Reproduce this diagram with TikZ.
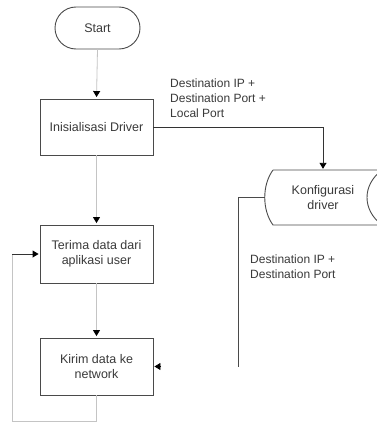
\documentclass[tikz,border=0pt]{standalone}
\usepackage{fontspec}
\setmainfont{Liberation Sans}
\usetikzlibrary{arrows.meta}
\definecolor{boxc}{HTML}{4A4A4A}
\definecolor{txtc}{HTML}{3A3A3A}
\definecolor{lightc}{HTML}{C4C4C4}
\definecolor{darkc}{HTML}{333333}
\begin{document}
\begin{tikzpicture}[x=1pt,y=-1pt,
  lbl/.style={font=\fontsize{12}{15}\selectfont, text=txtc, inner sep=0pt},
  procbox/.style={draw=boxc, line width=0.9pt, minimum width=113pt, align=center,
     font=\fontsize{12.5}{15}\selectfont, text=txtc, inner sep=2pt},
  tip/.style={-{Triangle[length=6pt,width=7pt,color=black]}},
  lightline/.style={draw=lightc, line width=0.8pt},
  darkline/.style={draw=darkc, line width=0.9pt}]
\useasboundingbox (0,0) rectangle (377,423);
\fill[white] (0,0) rectangle (377,423);
% nodes
\node[procbox, rounded corners=21pt, minimum width=85pt, minimum height=42pt] (start) at (97.5,28) {Start};
\node[procbox, minimum height=56pt] (init) at (96.5,127) {Inisialisasi Driver};
\node[procbox, minimum height=58pt] (terima) at (96.5,254) {Terima data dari\\aplikasi user};
\node[procbox, minimum height=57pt] (kirim) at (96.5,366.5) {Kirim data ke\\network};
\node[minimum width=116pt, minimum height=55pt, inner sep=0pt, align=center,
      font=\fontsize{12.5}{15}\selectfont, text=txtc] (konf) at (323,197.5) {Konfigurasi\\driver};
% stored data outline
\draw[boxc, line width=0.9pt] (273,170) -- (382,170) .. controls (362,185) and (362,210) .. (382,225)
   -- (273,225) .. controls (262,210) and (262,185) .. (273,170);
% labels
\node[lbl, anchor=west, align=left] (lab1) at (170,98) {Destination IP +\\Destination Port +\\Local Port};
\node[lbl, anchor=west, align=left] (lab2) at (250,267) {Destination IP +\\Destination Port};
% connectors
\draw[lightline, tip, shorten >=1.5pt] (start.south) -- (init.north);
\draw[lightline, tip, shorten >=1.5pt] (init.south) -- (terima.north);
\draw[lightline, tip, shorten >=1.5pt] (terima.south) -- (kirim.north);
\draw[darkline, tip, shorten >=1pt] (init.east) -| (konf.north);
\coordinate (kbend) at (238,197.5);
\coordinate (kend) at (238,367);
\draw[darkline, draw=boxc] (konf.west) -- (kbend) -- (kend);
\coordinate (ktip) at (161,366.5);
\draw[tip, line width=0.8pt, shorten >=1pt] (ktip) -- (kirim.east);
\coordinate (lb1) at (96.5,421.5);
\coordinate (lb2) at (12,421.5);
\coordinate (lb3) at (12,254);
\draw[lightline] (kirim.south) -- (lb1) -- (lb2) -- (lb3);
\draw[darkline, tip, shorten >=1pt] (lb3) -- (terima.west);
\end{tikzpicture}
\end{document}
